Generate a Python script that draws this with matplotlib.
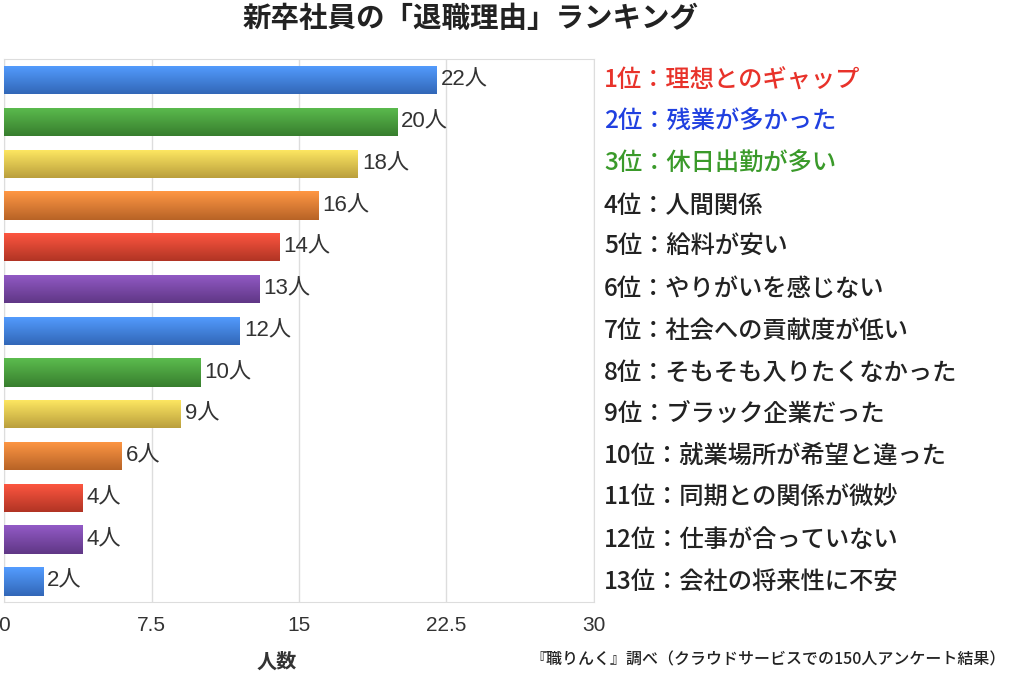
import numpy as np
import matplotlib
matplotlib.use("Agg")
import matplotlib.pyplot as plt
from matplotlib.colors import to_rgb
import matplotlib.transforms as mtransforms

plt.rcParams['font.family'] = ['Noto Sans CJK JP', 'DejaVu Sans']
num_family = ['Liberation Sans', 'Noto Sans CJK JP']

reasons = ["理想とのギャップ", "残業が多かった", "休日出勤が多い", "人間関係", "給料が安い",
           "やりがいを感じない", "社会への貢献度が低い", "そもそも入りたくなかった",
           "ブラック企業だった", "就業場所が希望と違った", "同期との関係が微妙",
           "仕事が合っていない", "会社の将来性に不安"]
counts = [22, 20, 18, 16, 14, 13, 12, 10, 9, 6, 4, 4, 2]
bar_colors = ["#3d7ee0", "#449a38", "#e3c24a", "#e0792f", "#d8402c", "#7543a3"] * 3
label_colors = ["#e8322a", "#2040e0", "#3a9a2a"] + ["#222222"] * 10
xticks = [0, 7.5, 15, 22.5, 30]
xtick_labels = ["0", "7.5", "15", "22.5", "30"]

fig = plt.figure(figsize=(10.24, 6.82), dpi=100)
ax = fig.add_axes([0.004, 0.117, 0.576, 0.796])

n = len(counts)
ypos = np.arange(n)
bars = ax.barh(ypos, counts, height=0.68, color=bar_colors[:n], edgecolor="none", zorder=2)
ax.set_ylim(n - 0.5, -0.5)
ax.set_xlim(0, 30)

# gradient shading on bars
for b, c in zip(bars, bar_colors):
    r, g, bl = to_rgb(c)
    top = np.array([min(1, r * 1.12 + 0.06), min(1, g * 1.12 + 0.06), min(1, bl * 1.12 + 0.06)])
    bot = np.array([r * 0.82, g * 0.82, bl * 0.82])
    t = np.linspace(0, 1, 64)[:, None]
    grad = (top[None, :] * (1 - t) + bot[None, :] * t)[:, None, :]
    x0, y0 = b.get_x(), b.get_y()
    w, h = b.get_width(), b.get_height()
    im = ax.imshow(grad, extent=[x0, x0 + w, y0 + h, y0], aspect="auto", zorder=3,
                   interpolation="bilinear")
    im.set_clip_path(b)

for i, v in enumerate(counts):
    ax.text(v + 0.2, i, f"{v}人", va="center", ha="left", fontsize=16, color="#333333",
            zorder=4, family=num_family)

ax.set_xticks(xticks)
ax.set_xticklabels(xtick_labels, fontsize=15, color="#333333", family=num_family)
ax.tick_params(axis="x", which="both", length=0, pad=10)
ax.set_yticks([])
ax.grid(axis="x", which="major", color="#dddddd", linewidth=1, zorder=0)
for s in ax.spines.values():
    s.set_color("#dddddd")
ax.set_xlabel("人数", fontsize=14.5, fontweight="bold", color="#333333")
ax.xaxis.set_label_coords(0.462, -0.09)

trans = mtransforms.blended_transform_factory(ax.transAxes, ax.transData)
for i, (r, c) in enumerate(zip(reasons, label_colors)):
    ax.text(1.017, i, f"{i+1}位：{r}", transform=trans, va="center", ha="left",
            fontsize=17.5, fontweight="medium", color=c, clip_on=False)

fig.text(0.46, 0.972, "新卒社員の「退職理由」ランキング", ha="center", va="center",
         fontsize=20.5, fontweight="bold", color="#222222")
fig.text(0.982, 0.032, "『職りんく』調べ（クラウドサービスでの150人アンケート結果）", ha="right",
         va="center", fontsize=11.5, fontweight="medium", color="#222222")

fig.savefig("out.png", dpi=100)
